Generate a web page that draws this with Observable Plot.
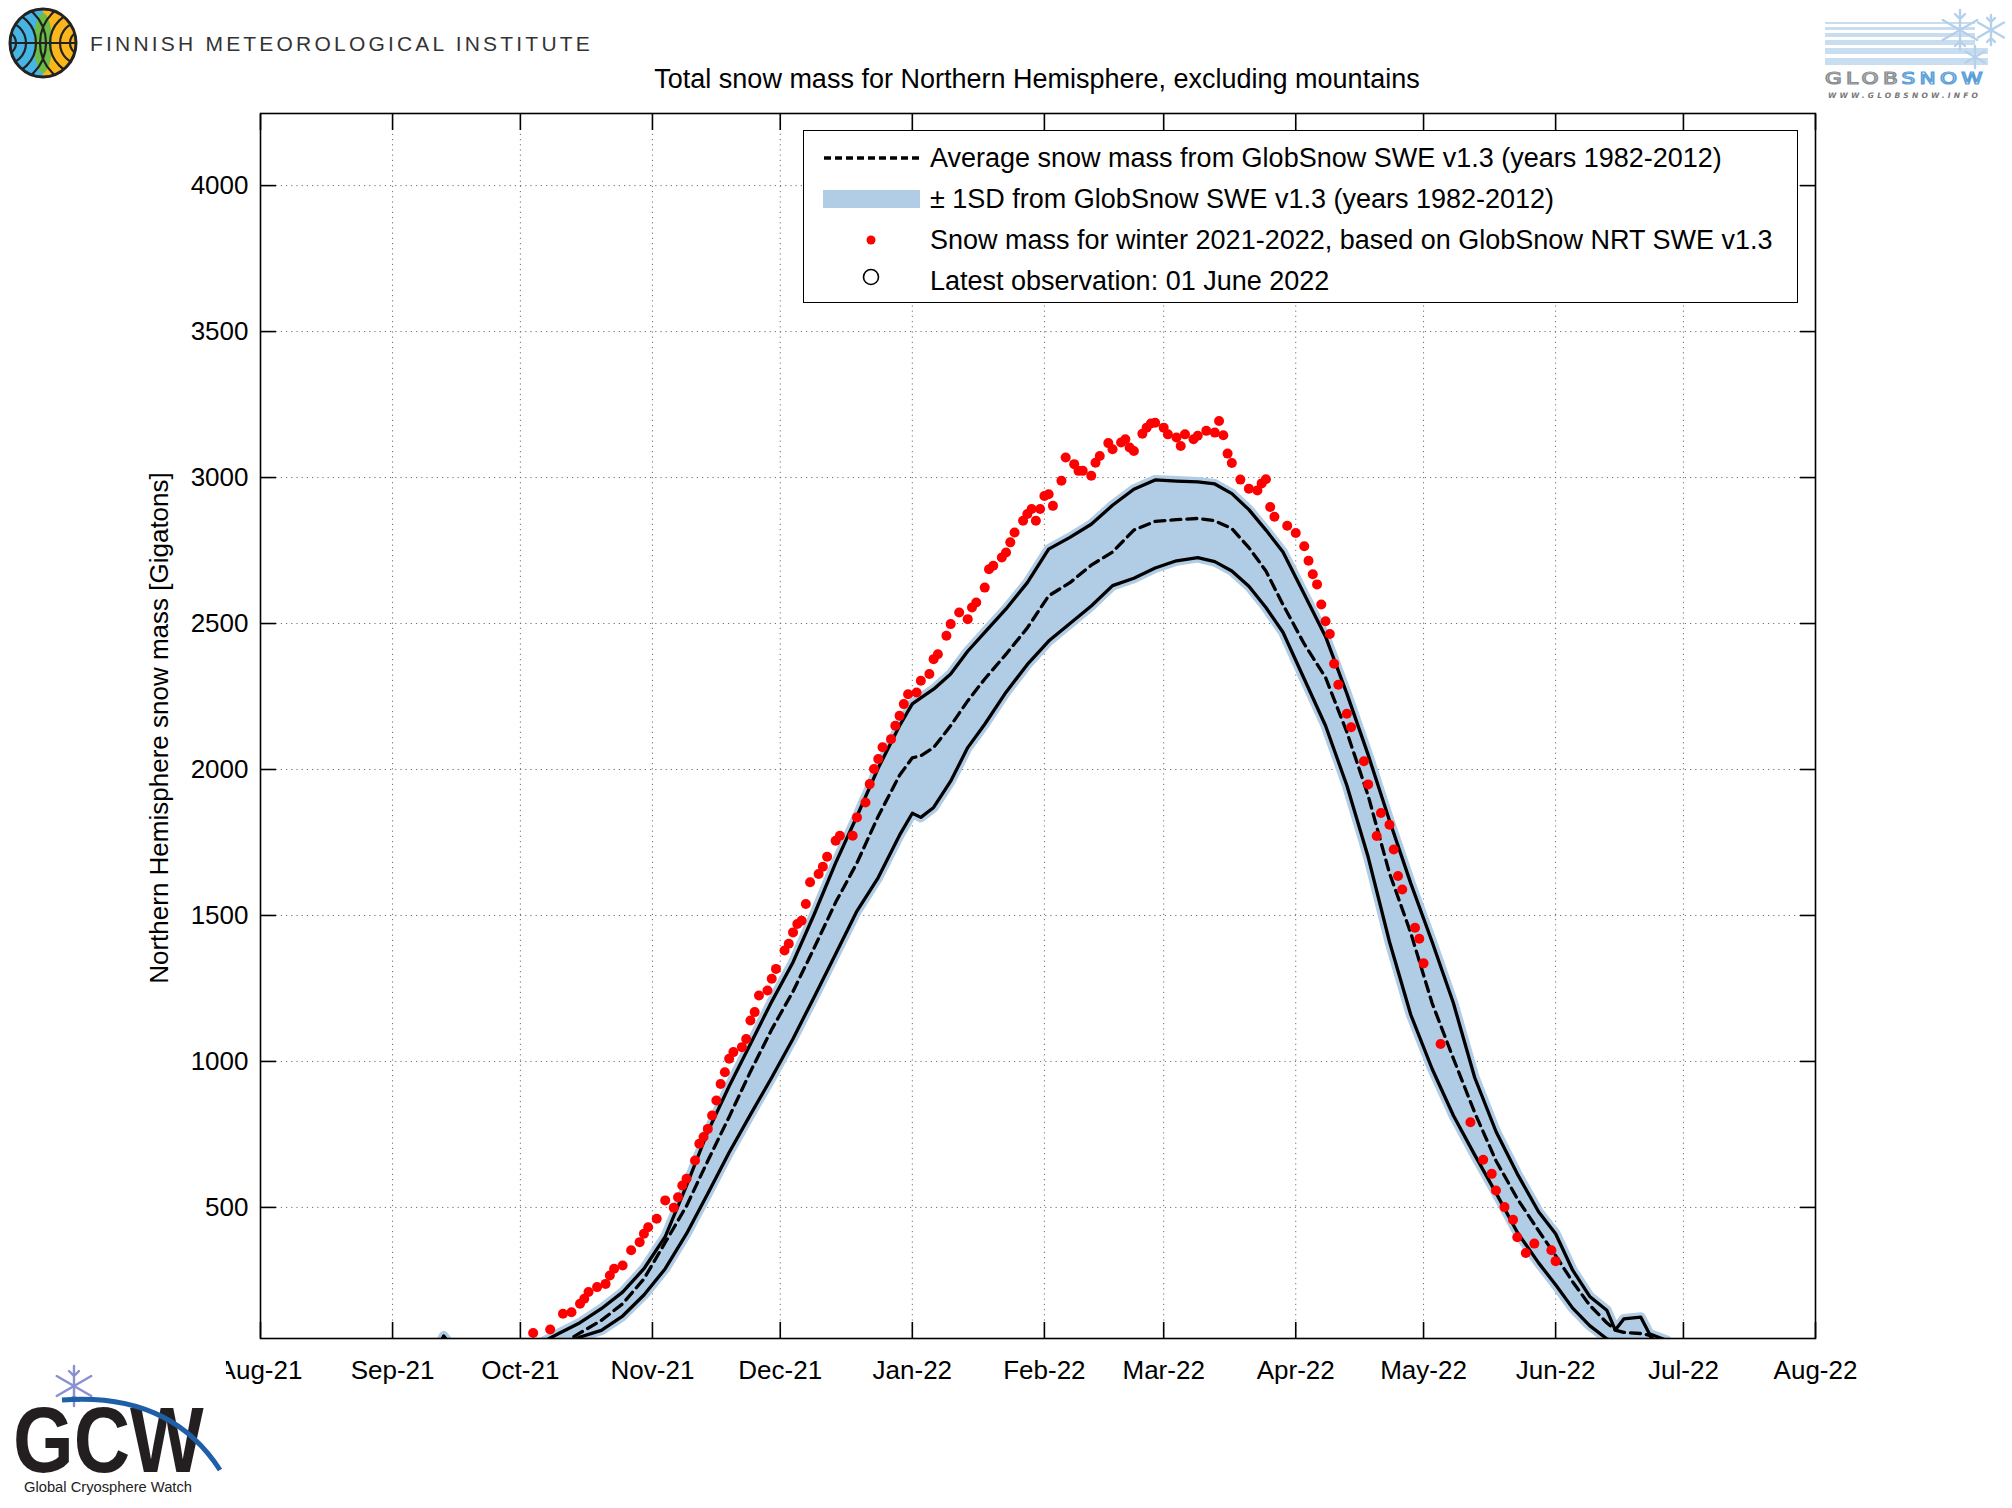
<!DOCTYPE html>
<html>
<head>
<meta charset="utf-8">
<script src="https://cdn.jsdelivr.net/npm/d3@7"></script>
<script src="https://cdn.jsdelivr.net/npm/@observablehq/plot@0.6"></script>
<style>
  html, body { margin: 0; padding: 0; background: #fff; }
  #page { position: relative; width: 2012px; height: 1508px; background: #fff; overflow: hidden; font-family: "Liberation Sans", Arial, sans-serif; color: #000; }
  #chart { position: absolute; left: 0; top: 0; }
  .abs { position: absolute; white-space: nowrap; }
</style>
</head>
<body>
<div id="page">
  <div id="chart"></div>

  <!-- FMI logo -->
  <svg class="abs" style="left:0;top:0" width="90" height="90" viewBox="0 0 90 90">
    <defs><clipPath id="fmiClip"><ellipse cx="43" cy="43" rx="33" ry="34"/></clipPath></defs>
    <g clip-path="url(#fmiClip)">
      <rect x="0" y="0" width="43" height="90" fill="#47b4e6"/>
      <rect x="43" y="0" width="47" height="90" fill="#fbb51d"/>
      <ellipse cx="43" cy="43" rx="9" ry="30" fill="#6cbd45"/>
      <g fill="none" stroke="#222" stroke-width="2.2">
        <circle cx="4" cy="43" r="12"/><circle cx="4" cy="43" r="22"/><circle cx="4" cy="43" r="32"/><circle cx="4" cy="43" r="42"/>
        <circle cx="82" cy="43" r="12"/><circle cx="82" cy="43" r="22"/><circle cx="82" cy="43" r="32"/><circle cx="82" cy="43" r="42"/>
        <line x1="0" y1="43" x2="90" y2="43"/>
      </g>
    </g>
    <ellipse cx="43" cy="43" rx="33" ry="34" fill="none" stroke="#222" stroke-width="3"/>
  </svg>
  <div class="abs" style="left:90px;top:31px;font-size:21px;line-height:25px;letter-spacing:3.2px;color:#333;">FINNISH METEOROLOGICAL INSTITUTE</div>

  <!-- GlobSnow logo -->
  <svg class="abs" style="left:1820px;top:4px" width="192" height="99" viewBox="0 0 192 99">
    <g fill="#c9ddf0">
      <rect x="5" y="18" width="150" height="2"/>
      <rect x="5" y="23" width="150" height="3"/>
      <rect x="5" y="29" width="150" height="4"/>
      <rect x="5" y="36" width="150" height="5"/>
      <rect x="5" y="44" width="163" height="6"/>
      <rect x="5" y="54" width="163" height="7"/>
    </g>
    <g fill="none" stroke="#b4d0ea" stroke-width="2.4" stroke-linecap="round">
      <g transform="translate(140,26)"><path d="M0,-20V20M-17.3,-10L17.3,10M-17.3,10L17.3,-10M-5,-16L0,-11L5,-16M-5,16L0,11L5,16"/></g>
      <g transform="translate(171,26)"><path d="M0,-15V15M-13,-7.5L13,7.5M-13,7.5L13,-7.5M-4,-12L0,-8L4,-12M-4,12L0,8L4,12"/></g>
      <g transform="translate(155,53)"><path d="M0,-11V11M-9.5,-5.5L9.5,5.5M-9.5,5.5L9.5,-5.5"/></g>
    </g>
    <text x="5" y="80" font-family="DejaVu Sans, sans-serif" font-size="15" letter-spacing="3" fill="none" stroke="#8a8f94" stroke-width="1.2" textLength="162" lengthAdjust="spacingAndGlyphs">GLOB<tspan stroke="#5a9fd8">SNOW</tspan></text>
    <text x="8" y="94" font-family="DejaVu Sans, sans-serif" font-size="7.5" font-weight="bold" font-style="italic" fill="#777" textLength="150" lengthAdjust="spacing">WWW.GLOBSNOW.INFO</text>
  </svg>

  <!-- Title -->
  <div class="abs" style="left:537px;width:1000px;top:66px;font-size:27px;line-height:27px;text-align:center;">Total snow mass for Northern Hemisphere, excluding mountains</div>

  <!-- Y label -->
  <div class="abs" style="left:-191px;width:700px;top:715px;font-size:26px;line-height:26px;text-align:center;transform:rotate(-90deg);">Northern Hemisphere snow mass [Gigatons]</div>

  <!-- Legend -->
  <div class="abs" style="left:803px;top:130px;width:995px;height:173px;border:1.5px solid #000;box-sizing:border-box;background:#fff;">
    <svg style="position:absolute;left:0;top:0" width="992" height="170">
      <line x1="20" x2="116" y1="27" y2="27" stroke="#000" stroke-width="3.4" stroke-dasharray="7,4"/>
      <rect x="19" y="59" width="97" height="18" fill="#b1cce5"/>
      <circle cx="67" cy="109" r="4.5" fill="#ff0000"/>
      <circle cx="67" cy="146" r="7.5" fill="none" stroke="#000" stroke-width="1.6"/>
    </svg>
    <div class="abs" style="left:126px;top:14px;font-size:27px;line-height:27px;">Average snow mass from GlobSnow SWE v1.3 (years 1982-2012)</div>
    <div class="abs" style="left:126px;top:55px;font-size:27px;line-height:27px;">± 1SD from GlobSnow SWE v1.3 (years 1982-2012)</div>
    <div class="abs" style="left:126px;top:96px;font-size:27px;line-height:27px;">Snow mass for winter 2021-2022, based on GlobSnow NRT SWE v1.3</div>
    <div class="abs" style="left:126px;top:137px;font-size:27px;line-height:27px;">Latest observation: 01 June 2022</div>
  </div>

  <!-- GCW logo (white box covers part of first tick label, as in the original) -->
  <div class="abs" style="left:0;top:1352px;width:226px;height:156px;background:#fff;">
    <svg style="position:absolute;left:0;top:0" width="226" height="156">
      <g transform="translate(74,34)" fill="none" stroke="#8a8fd0" stroke-width="2.4" stroke-linecap="round">
        <path d="M0,-20V20M-17.3,-10L17.3,10M-17.3,10L17.3,-10M-5,-15L0,-10L5,-15M-5,15L0,10L5,15"/>
      </g>
      <g transform="translate(13,120) scale(1,1.19)">
        <text x="0" y="0" font-family="Liberation Sans, Arial, sans-serif" font-weight="bold" font-size="78" fill="#231f20">GCW</text>
      </g>
      <path d="M62,48 Q170,40 220,118" fill="none" stroke="#1f5fa8" stroke-width="5"/>
      <text x="24" y="140" font-family="Liberation Sans, Arial, sans-serif" font-size="15" fill="#222" textLength="168" lengthAdjust="spacingAndGlyphs">Global Cryosphere Watch</text>
    </svg>
  </div>
</div>

<script>
// ---------------- DATA ----------------
const seasonStart = "2021-08-01";           // day 0 of the season axis
const xDomain = ["2021-08-01", "2022-08-01"];
const monthTicks = ["2021-08-01","2021-09-01","2021-10-01","2021-11-01","2021-12-01","2022-01-01",
                    "2022-02-01","2022-03-01","2022-04-01","2022-05-01","2022-06-01","2022-07-01","2022-08-01"];
const yTicks = [500, 1000, 1500, 2000, 2500, 3000, 3500, 4000];
const yDomain = [51, 4247];

// Climatology (GlobSnow SWE v1.3, 1982-2012): day of season, mean+1SD, mean, mean-1SD (Gt)
const lineDays  = [41,43,46,60,65,70,75,80,85,90,95,100,105,110,115,120,125,130,135,140,145,150,153,155,158,162,166,170,175,180,185,190,195,200,205,210,215,220,224,228,232,236,240,245,250,255,260,265,270,275,280,285,290,295,300,304,308,312,316,318,320,324,326,330];
const upperMass = [0,60,0,0,30,68,105,153,210,290,400,575,760,915,1060,1205,1340,1505,1680,1840,2005,2150,2225,2245,2275,2327,2405,2470,2550,2640,2755,2795,2840,2905,2960,2992,2988,2985,2978,2945,2890,2820,2745,2600,2455,2260,2050,1825,1610,1410,1200,945,760,615,485,410,285,195,148,80,118,124,67,45];
const avgMass   = [0,55,0,0,0,25,70,113,170,255,380,505,660,810,965,1110,1240,1390,1545,1680,1840,1980,2040,2047,2075,2150,2235,2310,2395,2485,2595,2640,2700,2745,2820,2850,2856,2860,2852,2825,2760,2680,2565,2430,2315,2128,1910,1645,1440,1200,1010,825,660,530,420,335,245,165,105,80,72,68,62,0];
const lowerMass = [0,50,0,0,0,15,56,79,128,200,290,410,548,688,818,945,1078,1222,1368,1515,1630,1775,1850,1836,1870,1960,2075,2155,2265,2360,2440,2500,2560,2630,2655,2690,2715,2726,2712,2680,2628,2555,2470,2310,2150,1945,1700,1410,1160,975,815,680,550,415,310,235,155,95,50,40,0,0,0,0];

// Winter 2021-2022 (GlobSnow NRT SWE v1.3): day of season and snow mass (Gt)
const dotDays = [64,68,71,73,75,76,77,79,81,82,83,85,87,89,90,91,93,95,97,98,99,100,102,103,104,105,106,107,108,109,110,111,113,114,115,116,117,119,120,121,123,124,125,126,127,128,129,131,132,133,135,136,139,140,142,143,144,145,146,148,149,150,151,152,154,155,157,158,159,161,162,164,166,167,168,170,171,172,174,175,176,177,179,180,181,182,183,184,185,186,188,189,191,192,193,195,196,197,199,200,202,203,204,205,207,208,209,210,212,213,215,216,217,219,220,222,224,225,226,227,228,230,232,234,235,236,237,238,241,243,245,246,247,248,249,250,251,252,253,255,256,259,260,262,263,265,266,267,268,271,272,273,277,284,287,289,290,292,294,295,297,299,303,304];
const dotMass = [70,82,136,141,170,187,210,227,238,267,290,301,353,381,410,432,461,524,499,535,575,598,661,718,741,769,815,866,923,963,1009,1032,1049,1077,1140,1169,1226,1243,1283,1317,1380,1403,1442,1471,1482,1539,1614,1642,1667,1701,1756,1773,1773,1836,1887,1950,2002,2036,2076,2104,2150,2184,2224,2258,2264,2304,2327,2378,2395,2458,2498,2538,2515,2555,2572,2623,2686,2698,2726,2743,2778,2812,2852,2875,2892,2852,2892,2937,2943,2903,2989,3069,3046,3023,3023,3006,3051,3074,3118,3097,3120,3131,3103,3091,3150,3171,3185,3188,3171,3148,3137,3108,3148,3131,3143,3160,3154,3194,3145,3082,3050,2993,2962,2956,2980,2994,2899,2866,2835,2810,2765,2715,2669,2634,2565,2508,2464,2362,2290,2191,2145,2028,1949,1772,1851,1811,1726,1635,1589,1458,1420,1336,1060,792,663,615,558,501,458,398,344,376,353,316];

// ---------------- BUILD ----------------
const t0 = new Date(seasonStart + "T00:00:00Z").getTime();
const dayToDate = d => new Date(t0 + d * 86400000);
const monthDates = monthTicks.map(s => new Date(s + "T00:00:00Z"));

const clim = lineDays.map((d, i) => ({date: dayToDate(d), upper: upperMass[i], avg: avgMass[i], lower: lowerMass[i]}));
const obs = dotDays.map((d, i) => ({date: dayToDate(d), mass: dotMass[i]}));

const band = "#b1cce5";
const fmt = d3.utcFormat("%b-%y");
const none = () => "";

const chart = Plot.plot({
  width: 2012,
  height: 1420,
  marginLeft: 260,
  marginRight: 197,
  marginTop: 113,
  marginBottom: 82,
  x: {type: "utc", domain: xDomain.map(s => new Date(s + "T00:00:00Z"))},
  y: {domain: yDomain},
  style: {fontFamily: "'Liberation Sans', Arial, sans-serif", fontSize: "26px", color: "#000", background: "transparent", overflow: "visible"},
  marks: [
    Plot.gridX({ticks: monthDates, stroke: "#6f6f6f", strokeOpacity: 1, strokeWidth: 1, strokeDasharray: "1.2,4"}),
    Plot.gridY({ticks: yTicks, stroke: "#6f6f6f", strokeOpacity: 1, strokeWidth: 1, strokeDasharray: "1.2,4"}),
    Plot.areaY(clim, {x: "date", y1: "lower", y2: "upper", fill: band, curve: "linear", clip: true}),
    Plot.line(clim, {x: "date", y: "upper", stroke: band, strokeWidth: 10, clip: true}),
    Plot.line(clim, {x: "date", y: "lower", stroke: band, strokeWidth: 10, clip: true}),
    Plot.line(clim, {x: "date", y: "upper", stroke: "#000", strokeWidth: 3.3, clip: true}),
    Plot.line(clim, {x: "date", y: "lower", stroke: "#000", strokeWidth: 3.3, clip: true}),
    Plot.line(clim, {x: "date", y: "avg", stroke: "#000", strokeWidth: 3.3, strokeDasharray: "10,6", clip: true}),
    Plot.dot(obs, {x: "date", y: "mass", r: 5, fill: "#ff0000", stroke: null, clip: true}),
    Plot.frame({stroke: "#000", strokeWidth: 1.6}),
    // labels
    Plot.axisY({ticks: yTicks, anchor: "left", tickSize: 0, tickPadding: 12, tickFormat: d => String(d), label: null}),
    Plot.axisX({ticks: monthDates, anchor: "bottom", tickSize: 0, tickPadding: 22, tickFormat: fmt, label: null}),
    // inward tick marks on all four sides
    Plot.axisY({ticks: yTicks, anchor: "left", tickSize: 16, dx: 16, tickFormat: none, label: null, strokeWidth: 1.6}),
    Plot.axisY({ticks: yTicks, anchor: "right", tickSize: 16, dx: -16, tickFormat: none, label: null, strokeWidth: 1.6}),
    Plot.axisX({ticks: monthDates, anchor: "bottom", tickSize: 16, dy: -16, tickFormat: none, label: null, strokeWidth: 1.6}),
    Plot.axisX({ticks: monthDates, anchor: "top", tickSize: 16, dy: 16, tickFormat: none, label: null, strokeWidth: 1.6})
  ]
});
document.getElementById("chart").appendChild(chart);
</script>
</body>
</html>
